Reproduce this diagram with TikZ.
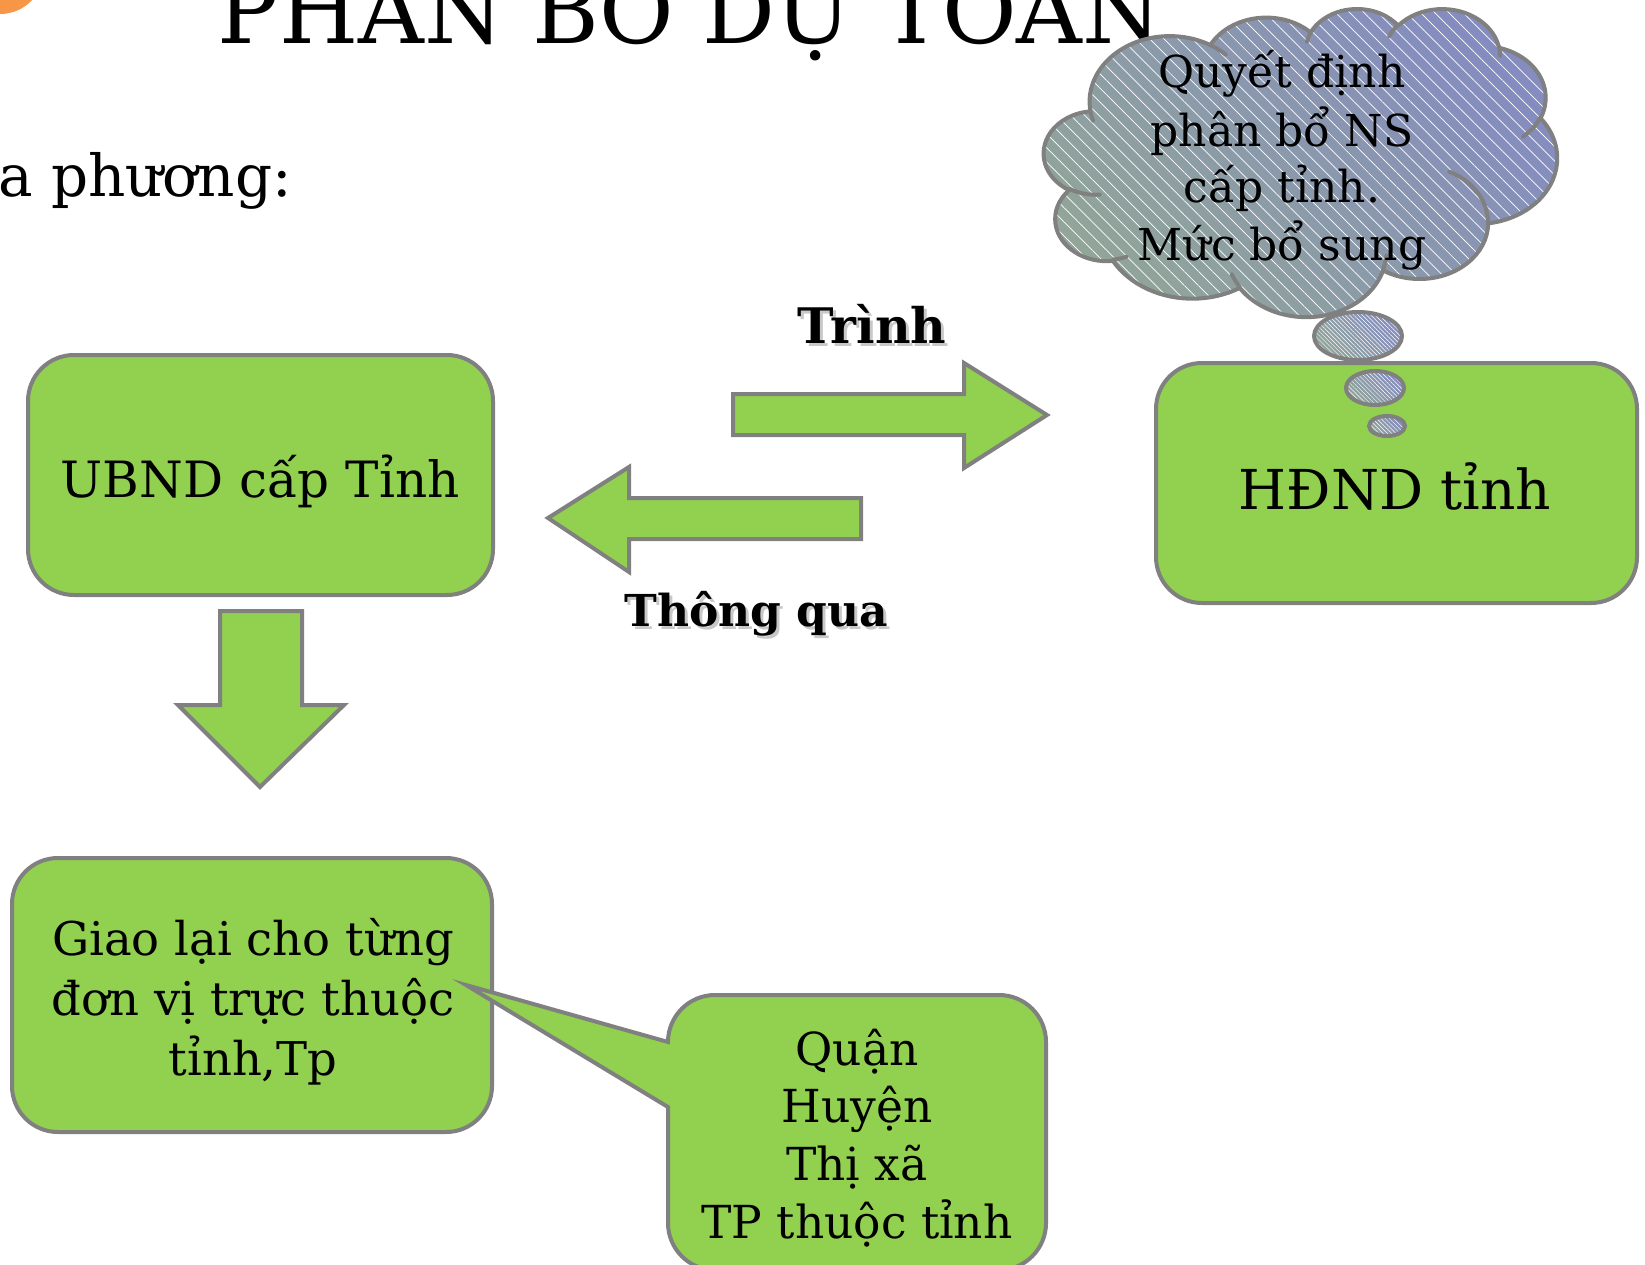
\documentclass[tikz,border=0pt]{standalone}
\usepackage{fontspec}
\setmainfont{DejaVu Serif}
\usetikzlibrary{patterns.meta}
\definecolor{boxgreen}{HTML}{92D050}
\definecolor{edgegray}{HTML}{808080}
\definecolor{cloudA}{HTML}{91A598}
\definecolor{cloudB}{HTML}{848CC0}
\definecolor{dotorange}{HTML}{F79646}
\definecolor{shadowgray}{HTML}{C8C8C8}
\newcommand\ooarc[4]{arc[x radius=#1, y radius=#2, start angle={atan2((#1)*sin(#3),(#2)*cos(#3))}, delta angle={mod(atan2((#1)*sin((#3)+(#4)),(#2)*cos((#3)+(#4)))-atan2((#1)*sin(#3),(#2)*cos(#3))+720,360)}]}
\newcommand\setfs[1]{\fontsize{#1}{#1}\selectfont}
\begin{document}
\begin{tikzpicture}[x=1pt,y=-1pt,
  gbox/.style={draw=edgegray,line width=4pt,fill=boxgreen,rounded corners=46pt,inner sep=0pt},
  garrow/.style={draw=edgegray,line width=4pt,fill=boxgreen,line join=miter},
  txt/.style={anchor=base,inner sep=0pt},
  cloudshade/.style={left color=cloudA,right color=cloudB,shading angle=135},
  hatch/.style={pattern={Lines[angle=-45,distance=10pt,line width=0.7pt]},pattern color=white,fill opacity=0.25},
  finehatch/.style={pattern={Lines[angle=-45,distance=3pt,line width=0.5pt]},pattern color=white,fill opacity=0.2},
  edge/.style={draw=edgegray,line width=4pt},
]
\path[use as bounding box] (0,0) rectangle (1645,1265);
\clip (0,0) rectangle (1645,1265);
\fill[white] (0,0) rectangle (1645,1265);
\fill[dotorange] (0,-30) circle[radius=44];

% title and subtitle
\node[txt,font=\setfs{91}] (title) at (690,44) {PHÂN BỔ DỰ TOÁN};
\node[txt,anchor=base west,font=\setfs{58}] (sub) at (-2,197) {a phương:};

% boxes
\node[gbox,minimum width=465pt,minimum height=240pt] (ubnd) at (260.5,475) {};
\node[gbox,minimum width=481pt,minimum height=240pt] (hdnd) at (1396.5,483) {};
\node[gbox,minimum width=480pt,minimum height=274pt] (giao) at (252,995) {};

\node[txt,font=\setfs{50}] (ubndt) at (260,497) {UBND cấp Tỉnh};
\node[txt,font=\setfs{55}] (hdndt) at (1395,509) {HĐND tỉnh};
\node[txt,font=\setfs{46.5}] (giao1) at (253,955) {Giao lại cho từng};
\node[txt,font=\setfs{46.5}] (giao2) at (253,1015) {đơn vị trực thuộc};
\node[txt,font=\setfs{46.5}] (giao3) at (253,1075) {tỉnh,Tp};

% arrows
\draw[garrow] (733,394) -- (964,394) -- (964,363) -- (1047,415) -- (964,468) -- (964,435) -- (733,435) -- cycle;
\draw[garrow] (861,498) -- (629,498) -- (629,467) -- (548,518) -- (629,572) -- (629,539) -- (861,539) -- cycle;
\draw[garrow] (220,611) -- (302,611) -- (302,705) -- (344,705) -- (260,787) -- (178,705) -- (220,705) -- cycle;

\node[txt,font=\setfs{49}\bfseries,text=shadowgray] (trinhs) at (875,346) {Trình};
\node[txt,font=\setfs{49}\bfseries] (trinh) at (872,343) {Trình};
\node[txt,font=\setfs{44}\bfseries,text=shadowgray] (thongs) at (759,629) {Thông qua};
\node[txt,font=\setfs{44}\bfseries] (thong) at (756,626) {Thông qua};

% callout
\coordinate (tip) at (466,985);
\draw[garrow,rounded corners=47pt] (668,1042) -- (668,995) -- (1046,995) -- (1046,1270) -- (668,1270) [sharp corners] -- (668,1107) -- (tip) -- cycle;
\node[txt,font=\setfs{45.5}] (q1) at (857,1065) {Quận};
\node[txt,font=\setfs{45.5}] (q2) at (857,1122) {Huyện};
\node[txt,font=\setfs{45.5}] (q3) at (857,1180) {Thị xã};
\node[txt,font=\setfs{45.5}] (q4) at (857,1238) {TP thuộc tỉnh};

% thought bubbles
\foreach \cx/\cy/\rx/\ry in {1358/336/44/24,1375/388/29/17,1387/426/18/10}{
  \path[cloudshade] (\cx,\cy) ellipse[x radius=\rx,y radius=\ry];
  \path[finehatch] (\cx,\cy) ellipse[x radius=\rx,y radius=\ry];
  \draw[edge] (\cx,\cy) ellipse[x radius=\rx,y radius=\ry];
}

% cloud
\begin{scope}[xshift=1044pt,yshift=-8pt,x=0.11875pt,y=-0.0713pt]
\def\cloudpath{(390,1437)
 \ooarc{675.3}{919.0}{-190.4875}{123.7805}
 \ooarc{533.3}{726.7}{-144.1024}{89.9452}
 \ooarc{436.5}{594.5}{-145.8079}{99.7230}
 \ooarc{485.7}{659.5}{-130.9861}{117.2417}
 \ooarc{533.3}{727.3}{-78.7089}{109.0269}
 \ooarc{677.5}{922.0}{-46.2673}{130.2690}
 \ooarc{578.5}{786.7}{0.6250}{114.0333}
 \ooarc{675.2}{921.5}{22.4516}{115.1726}
 \ooarc{772.0}{1054.3}{66.2426}{75.7110}
 \ooarc{436.0}{591.8}{-274.9421}{146.7356}
 \ooarc{434.5}{594.5}{-246.8285}{152.5189}
 -- cycle}
\path[cloudshade] \cloudpath;
\path[hatch] \cloudpath;
\draw[edge,line join=round] \cloudpath;
\draw[edge,line cap=round]
 (469.3,2617.7) \ooarc{434.5}{594.5}{86.7420}{26.4295}
 (692.8,3489.9) \ooarc{436.0}{591.8}{73.6105}{11.4475}
 (1647.8,3909.0) \ooarc{675.2}{921.5}{137.6242}{14.0811}
 (2882.7,3475.1) \ooarc{675.2}{921.5}{6.4533}{15.9984}
 (3412.9,2295.4) \ooarc{578.5}{786.7}{-70.2924}{70.9174}
 (4179.8,1535.4) \ooarc{533.3}{727.3}{30.3180}{27.7515}
 (3832.4,542.6) \ooarc{485.7}{659.5}{-13.7443}{14.8589}
 (2907.8,395.2) \ooarc{485.7}{659.5}{-149.1815}{18.1954}
 (2214.1,472.0) \ooarc{436.5}{594.5}{-163.4943}{17.6864}
 (1400.0,519.2) \ooarc{675.3}{919.0}{-66.7070}{12.3194}
 (412.7,1578.9) \ooarc{675.3}{919.0}{157.6544}{11.8582};
\end{scope}
\node[txt,font=\setfs{44}] (c1) at (1282,88) {Quyết định};
\node[txt,font=\setfs{44}] (c2) at (1282,147) {phân bổ NS};
\node[txt,font=\setfs{44}] (c3) at (1282,203) {cấp tỉnh.};
\node[txt,font=\setfs{44}] (c4) at (1282,260) {Mức bổ sung};
\end{tikzpicture}
\end{document}
